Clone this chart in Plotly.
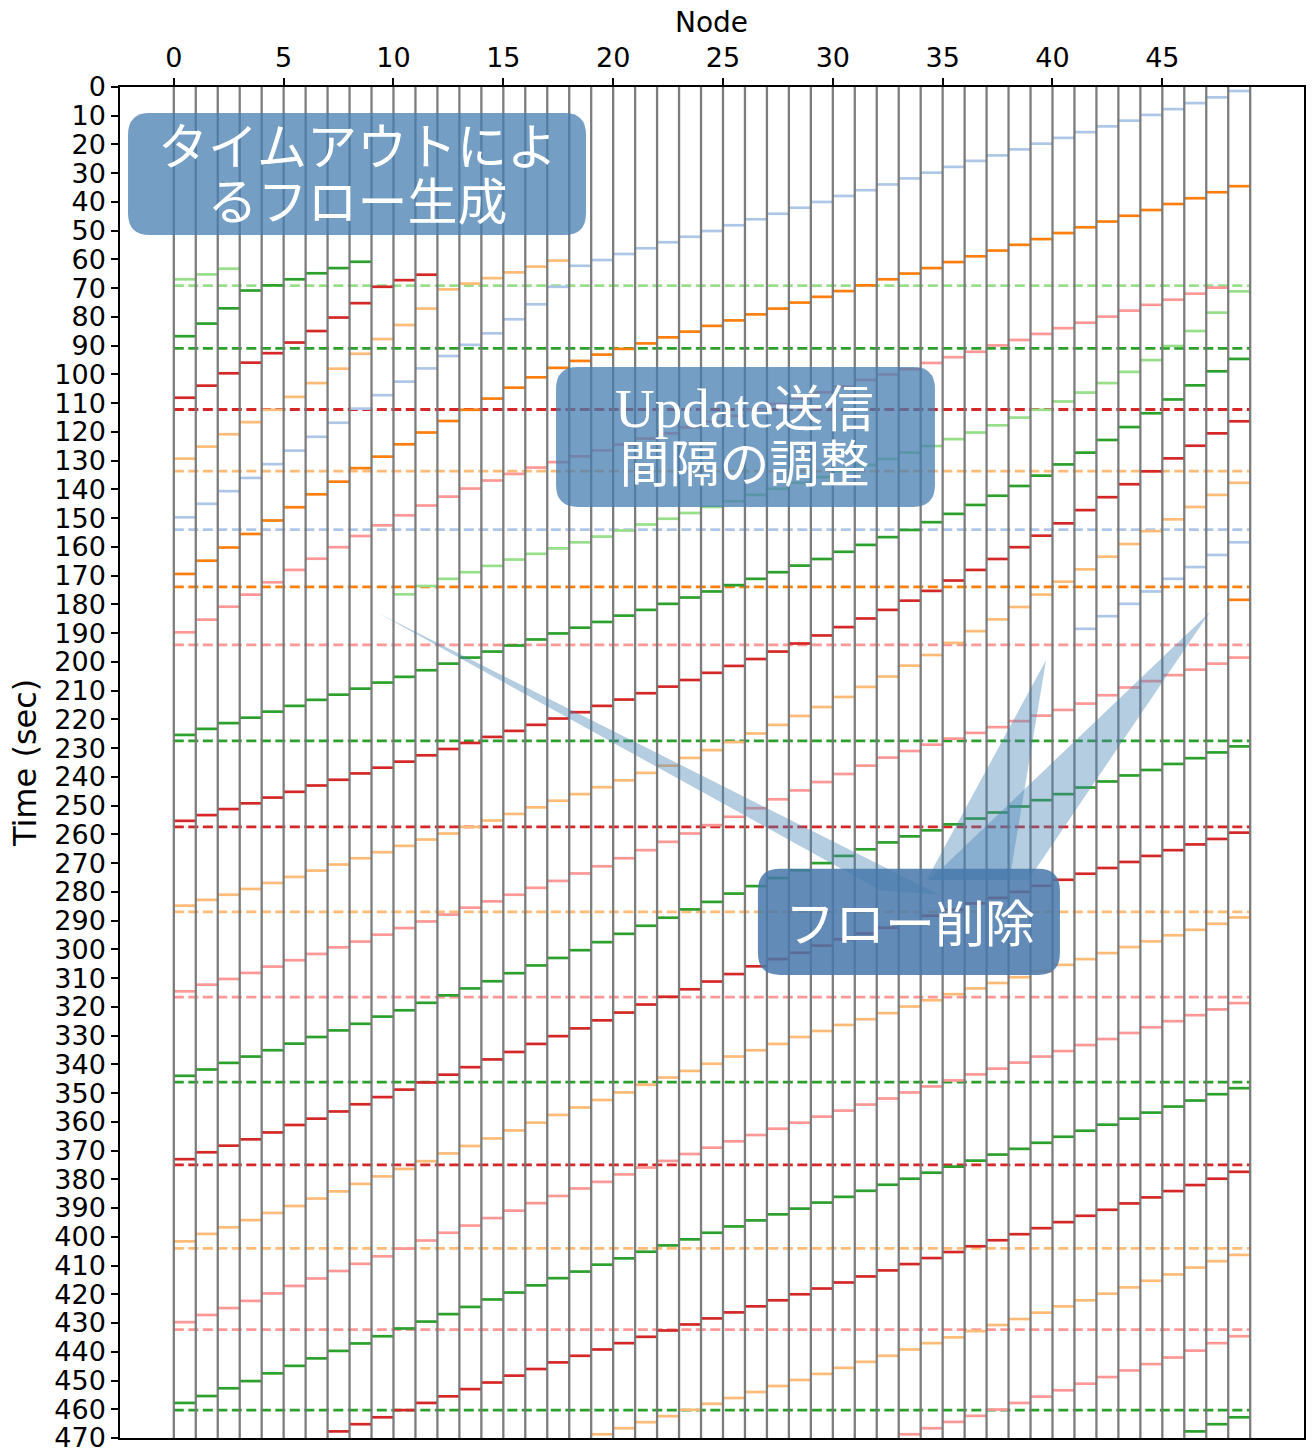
import plotly.graph_objects as go

# ---------------------------------------------------------------------------
# Flow-entry timeline on a 50-node chain.
# Each flow is listed as (first link index, times in seconds at each link).
# A segment at link i is drawn between node i and node i+1.
# ---------------------------------------------------------------------------

nodes = list(range(50))
x_ticks = [0, 5, 10, 15, 20, 25, 30, 35, 40, 45]
y_ticks = list(range(0, 471, 10))

# light blue flows
lb1_start = 0
lb1 = [149.7, 145.0, 140.6, 136.0, 131.2, 126.5, 121.7, 116.8, 111.9, 107.2,
       102.5, 97.9, 93.6, 89.7, 85.7, 80.8, 75.6, 69.5, 62.2, 60.2,
       58.1, 56.1, 54.0, 52.1, 50.1, 48.1, 46.0, 44.1, 42.0, 40.0,
       37.9, 35.9, 33.9, 31.8, 29.8, 27.8, 25.7, 23.8, 21.7, 19.7,
       17.7, 15.7, 13.7, 11.7, 9.7, 7.7, 5.6, 3.6, 1.4]
lb2_start = 41
lb2 = [188.5, 184.1, 179.8, 175.5, 171.1, 167.0, 162.8, 158.4]

# dark orange flows
o1_start = 0
o1 = [169.4, 164.8, 160.2, 155.5, 150.8, 146.2, 141.7, 137.3, 132.6, 128.6,
      124.3, 120.2, 116.2, 112.3, 108.4, 104.6, 101.0, 97.7, 95.3, 93.1,
      91.1, 89.2, 87.1, 85.1, 83.1, 81.2, 79.1, 77.1, 75.0, 73.0,
      71.0, 69.0, 66.9, 64.9, 63.0, 60.9, 58.9, 56.9, 54.9, 52.9,
      50.8, 48.8, 46.8, 44.8, 42.8, 40.7, 38.7, 36.6, 34.5]
o2_start = 48
o2 = [178.4]

# light green flows
lg1_start = 0
lg1 = [66.9, 65.2, 63.2]
lg2_start = 10
lg2 = [176.5, 173.6, 171.1, 168.8, 166.6, 164.4, 162.4, 160.5, 158.4, 156.4,
       154.3, 152.2, 150.2, 148.2, 146.1, 144.1, 141.9, 139.8, 137.7, 135.7,
       133.7, 131.5, 129.4, 127.2, 124.9, 122.5, 120.2, 117.7, 115.0, 112.3,
       109.4, 106.3, 103.0, 99.1, 95.0, 90.1, 84.9, 78.5, 71.1]

# dark green flows
g1_start = 0
g1 = [86.7, 82.3, 77.0, 70.8, 69.0, 66.9, 64.8, 63.0, 60.8]
g2_start = 0
g2 = [225.4, 223.3, 221.3, 219.4, 217.3, 215.3, 213.2, 211.4, 209.3, 207.2,
      205.2, 202.9, 200.6, 198.5, 196.4, 194.3, 192.2, 190.1, 188.1, 186.1,
      183.9, 181.9, 179.8, 177.6, 175.5, 173.3, 171.1, 168.8, 166.5, 164.2,
      161.7, 159.3, 156.6, 154.1, 151.4, 148.5, 145.4, 142.2, 138.8, 135.2,
      131.3, 127.2, 122.8, 118.3, 113.5, 108.7, 103.8, 98.9, 94.6]
g3_start = 0
g3 = [344.0, 341.8, 339.5, 337.3, 335.1, 332.8, 330.5, 328.2, 325.9, 323.4,
      321.2, 318.6, 316.0, 313.6, 311.1, 308.3, 305.6, 303.0, 300.3, 297.5,
      294.6, 291.8, 289.0, 286.1, 283.5, 280.6, 278.0, 275.2, 272.5, 270.0,
      267.5, 265.2, 262.8, 260.7, 258.6, 256.5, 254.5, 252.4, 250.3, 248.1,
      246.0, 243.7, 241.6, 239.5, 237.6, 235.5, 233.5, 231.5, 229.4]
g4_start = 0
g4 = [457.8, 455.4, 452.7, 450.2, 447.5, 444.9, 442.3, 439.7, 437.1, 434.6,
      431.9, 429.5, 426.9, 424.4, 421.8, 419.4, 416.9, 414.4, 412.1, 409.7,
      407.5, 405.2, 403.0, 400.9, 398.6, 396.4, 394.3, 392.2, 390.2, 388.1,
      386.1, 384.0, 381.9, 379.8, 377.7, 375.6, 373.5, 371.4, 369.4, 367.3,
      365.2, 363.1, 361.0, 358.9, 356.8, 354.7, 352.6, 350.4, 348.3]
g5_start = 46
g5 = [467.7, 465.2, 462.8]

# dark red flows
r1_start = 0
r1 = [108.1, 103.9, 99.6, 95.9, 92.6, 88.9, 84.9, 80.2, 75.2, 69.5, 67.2, 65.3]
r2_start = 0
r2 = [255.3, 253.3, 251.2, 249.2, 247.2, 245.2, 243.0, 241.0, 238.8, 236.8,
      234.7, 232.5, 230.3, 228.2, 226.1, 224.0, 221.9, 219.7, 217.5, 215.3,
      213.1, 210.9, 208.6, 206.3, 203.8, 201.4, 199.0, 196.4, 193.6, 190.8,
      187.9, 184.9, 181.9, 178.7, 175.3, 171.7, 168.0, 164.2, 160.1, 156.1,
      151.8, 147.2, 142.7, 138.2, 133.7, 129.2, 124.8, 120.5, 116.3]
r3_start = 0
r3 = [373.0, 370.6, 368.3, 366.1, 363.7, 361.1, 358.9, 356.4, 353.9, 351.4,
      348.8, 346.3, 343.6, 341.0, 338.3, 335.7, 332.9, 330.2, 327.5, 324.7,
      322.0, 319.2, 316.5, 313.9, 311.2, 308.6, 305.9, 303.4, 301.2, 298.7,
      296.5, 294.5, 292.5, 290.5, 288.3, 286.2, 284.0, 282.1, 280.0, 277.9,
      275.8, 273.7, 271.7, 269.6, 267.5, 265.5, 263.5, 261.6, 259.4]
r4_start = 7
r4 = [467.7, 465.2, 462.8, 460.3, 457.8, 455.5, 453.0, 450.7, 448.3, 446.0,
      443.7, 441.4, 439.2, 437.0, 434.8, 432.6, 430.5, 428.4, 426.3, 424.2,
      422.1, 420.0, 418.0, 415.9, 413.8, 411.7, 409.5, 407.4, 405.3, 403.3,
      401.2, 399.1, 397.0, 394.9, 392.7, 390.6, 388.4, 386.3, 384.1, 382.0,
      379.8, 377.4]

# light orange flows
lo1_start = 0
lo1 = [129.3, 125.1, 120.8, 116.6, 112.3, 107.8, 103.0, 98.0, 92.8, 87.7,
       82.8, 77.1, 70.4, 68.4, 66.5, 64.5, 62.5, 60.4]
lo2_start = 0
lo2 = [284.8, 282.8, 281.0, 279.0, 276.9, 274.8, 272.6, 270.5, 268.3, 266.2,
       264.0, 261.8, 259.7, 257.4, 255.2, 252.9, 250.6, 248.3, 246.0, 243.6,
       241.2, 238.6, 236.1, 233.4, 230.7, 227.9, 224.9, 221.9, 218.8, 215.7,
       212.2, 208.7, 205.1, 201.3, 197.6, 193.4, 189.3, 185.2, 180.9, 176.6,
       172.1, 167.8, 163.4, 159.0, 154.5, 150.4, 146.1, 141.9, 137.7]
lo3_start = 0
lo3 = [401.6, 399.0, 396.7, 394.2, 391.7, 389.3, 386.7, 384.2, 381.6, 379.0,
       376.4, 373.7, 371.0, 368.4, 365.8, 363.0, 360.3, 357.6, 355.0, 352.4,
       349.8, 347.1, 344.6, 342.3, 339.8, 337.3, 335.1, 332.9, 330.5, 328.4,
       326.3, 324.3, 322.2, 319.9, 317.7, 315.6, 313.6, 311.7, 309.7, 307.6,
       305.4, 303.4, 301.3, 299.2, 297.2, 295.1, 293.2, 291.1, 288.9]
lo4_start = 19
lo4 = [468.7, 466.6, 464.5, 462.4, 460.2, 458.1, 456.1, 454.0, 451.9, 449.8,
       447.7, 445.6, 443.5, 441.4, 439.2, 437.0, 435.0, 432.8, 430.7, 428.6,
       426.4, 424.2, 422.1, 419.8, 417.6, 415.3, 413.1, 410.7, 408.5, 406.3]

# pink flows
p1_start = 0
p1 = [189.7, 185.3, 180.8, 176.6, 172.3, 168.0, 164.1, 160.1, 156.2, 152.5,
      149.0, 145.6, 142.5, 139.7, 136.9, 134.6, 132.4, 130.5, 128.5, 126.4,
      124.4, 122.3, 120.5, 118.4, 116.4, 114.4, 112.3, 110.3, 108.3, 106.2,
      104.2, 101.9, 100.0, 98.2, 96.0, 94.0, 92.1, 89.9, 88.0, 85.9,
      83.9, 82.0, 79.9, 77.8, 75.8, 74.0, 71.9, 69.8]
p2_start = 0
p2 = [314.6, 312.3, 310.3, 308.2, 306.0, 303.8, 301.6, 299.3, 297.3, 294.9,
      292.6, 290.3, 287.9, 285.5, 283.3, 281.0, 278.6, 276.2, 273.6, 271.1,
      268.3, 265.5, 262.6, 259.7, 256.8, 253.9, 250.9, 247.8, 244.7, 241.8,
      239.0, 236.1, 233.3, 231.0, 228.8, 226.7, 224.7, 222.7, 220.6, 218.7,
      216.7, 214.5, 211.6, 208.9, 206.7, 204.6, 202.7, 200.6, 198.5]
p3_start = 0
p3 = [429.7, 427.2, 424.8, 422.3, 419.7, 417.1, 414.5, 411.9, 409.4, 406.8,
      404.1, 401.3, 398.6, 396.1, 393.5, 390.9, 388.3, 385.8, 383.2, 380.9,
      378.3, 375.9, 373.6, 371.2, 369.0, 366.8, 364.6, 362.4, 360.3, 358.2,
      356.1, 354.0, 351.9, 349.8, 347.7, 345.6, 343.5, 341.5, 339.4, 337.3,
      335.4, 333.3, 331.2, 329.1, 327.1, 325.0, 322.9, 320.9, 318.7]
p4_start = 33
p4 = [468.7, 466.6, 464.4, 462.3, 460.1, 457.8, 455.6, 453.4, 451.1, 448.8,
      446.5, 444.3, 442.0, 439.6, 437.0, 434.6]

# flow deletion times (dashed lines across every node)
delete_times = [69.1, 90.9, 112.2, 133.6, 154.0, 173.9, 194.1, 227.5, 257.4,
                287.0, 316.6, 346.2, 375.0, 404.0, 432.3, 460.3]
delete_flows = ["lg", "g", "r", "lo", "lb", "o", "p", "g", "r",
                "lo", "p", "g", "r", "lo", "p", "g"]

# ---------------------------------------------------------------------------
colors = {
    "lb": "#aec7e8", "o": "#ff7f0e", "lo": "#ffbb78", "g": "#2ca02c",
    "lg": "#98df8a", "r": "#d62728", "p": "#ff9896",
}

flows = [
    ("lb", lb1_start, lb1), ("lb", lb2_start, lb2),
    ("o", o1_start, o1), ("o", o2_start, o2),
    ("lg", lg1_start, lg1), ("lg", lg2_start, lg2),
    ("g", g1_start, g1), ("g", g2_start, g2), ("g", g3_start, g3),
    ("g", g4_start, g4), ("g", g5_start, g5),
    ("r", r1_start, r1), ("r", r2_start, r2), ("r", r3_start, r3),
    ("r", r4_start, r4),
    ("lo", lo1_start, lo1), ("lo", lo2_start, lo2), ("lo", lo3_start, lo3),
    ("lo", lo4_start, lo4),
    ("p", p1_start, p1), ("p", p2_start, p2), ("p", p3_start, p3),
    ("p", p4_start, p4),
]

T_MAX = 470
fig = go.Figure()

# dashed deletion lines
for t, key in zip(delete_times, delete_flows):
    fig.add_trace(go.Scatter(
        x=[nodes[0], nodes[-1]], y=[t, t], mode="lines",
        line=dict(color=colors[key], width=2.8, dash="10px,4.5px"),
        hoverinfo="skip", showlegend=False))

# per-link flow entries
for key, start, times in flows:
    xs, ys = [], []
    for k, t in enumerate(times):
        link = start + k
        xs += [link, link + 1, None]
        ys += [t, t, None]
    fig.add_trace(go.Scatter(
        x=xs, y=ys, mode="lines",
        line=dict(color=colors[key], width=2.7),
        hoverinfo="skip", showlegend=False))

# node lines
vx, vy = [], []
for n in nodes:
    vx += [n, n, None]
    vy += [0, T_MAX, None]
fig.add_trace(go.Scatter(
    x=vx, y=vy, mode="lines",
    line=dict(color="rgba(118,118,118,0.95)", width=2.3),
    hoverinfo="skip", showlegend=False))


# ---------------------------------------------------------------------------
# callout boxes (data units: node, seconds)
def rounded_rect(x0, x1, y0, y1, rx, ry):
    return (f"M {x0 + rx},{y0} L {x1 - rx},{y0} Q {x1},{y0} {x1},{y0 + ry} "
            f"L {x1},{y1 - ry} Q {x1},{y1} {x1 - rx},{y1} "
            f"L {x0 + rx},{y1} Q {x0},{y1} {x0},{y1 - ry} "
            f"L {x0},{y0 + ry} Q {x0},{y0} {x0 + rx},{y0} Z")


def tri(p0, p1, p2):
    return (f"M {p0[0]},{p0[1]} L {p1[0]},{p1[1]} "
            f"L {p2[0]},{p2[1]} Z")


RX, RY = 1.0, 7.6
wedge_fill = "rgba(70,130,180,0.40)"
shapes = [
    # wedges from the deletion callout
    dict(type="path", path=tri((9.30, 183.0), (34.88, 281.1), (32.15, 279.4)),
         fillcolor=wedge_fill, line=dict(width=0), layer="above"),
    dict(type="path", path=tri((39.71, 199.3), (34.27, 275.9), (38.04, 275.9)),
         fillcolor=wedge_fill, line=dict(width=0), layer="above"),
    dict(type="path", path=tri((47.17, 182.6), (34.40, 275.9), (38.90, 275.9)),
         fillcolor=wedge_fill, line=dict(width=0), layer="above"),
    # boxes
    dict(type="path", path=rounded_rect(-2.085, 18.765, 9.05, 51.49, RX, RY),
         fillcolor="rgba(70,125,176,0.75)", line=dict(width=0), layer="above"),
    dict(type="path", path=rounded_rect(17.40, 34.65, 97.4, 146.1, RX, RY),
         fillcolor="rgba(70,125,176,0.75)", line=dict(width=0), layer="above"),
    dict(type="path", path=rounded_rect(26.59, 40.34, 272.0, 308.9, RX, RY),
         fillcolor="rgba(70,120,170,0.85)", line=dict(width=0), layer="above"),
]

jp = "Noto Sans CJK JP"
# line pitch follows the base size (1.3 em); glyphs are enlarged per span
pitch_font = dict(family=jp, size=42, color="white")
serif_pitch = dict(family="Liberation Serif, " + jp, size=42, color="white")
big = '<span style="font-size:50px">{}</span>'
latin = '<span style="font-size:55px">{}</span>'
notes = [
    (8.34, 29.05, big.format("タイムアウトによ") + "<br>" + big.format("るフロー生成"),
     pitch_font),
    (26.0, 121.4, latin.format("Update") + big.format("送信") + "<br>"
     + big.format("間隔の調整"), serif_pitch),
    (33.51, 289.8, big.format("フロー削除"), pitch_font),
]
annotations = [
    dict(x=x, y=y, xref="x", yref="y", text=txt, showarrow=False,
         font=f, xanchor="center", yanchor="middle")
    for x, y, txt, f in notes
]
axis_font = dict(family="DejaVu Sans", size=27, color="black")
annotations += [
    dict(x=0.4992, y=1.048, xref="paper", yref="paper", text="Node",
         showarrow=False, font=dict(family="DejaVu Sans", size=28, color="black"),
         xanchor="center", yanchor="middle"),
    dict(x=-0.0802, y=0.4996, xref="paper", yref="paper", text="Time (sec)",
         showarrow=False, font=dict(family="DejaVu Sans", size=32, color="black"),
         textangle=-90, xanchor="center", yanchor="middle"),
]

fig.update_layout(
    width=1314, height=1450,
    margin=dict(l=120, r=10, t=87, b=12, autoexpand=False),
    paper_bgcolor="white", plot_bgcolor="white",
    shapes=shapes, annotations=annotations,
    font=axis_font,
    xaxis=dict(range=[-2.45, 51.45], side="top", tickvals=x_ticks,
               ticks="outside", ticklen=7, tickwidth=1.5, tickcolor="black",
               showline=True, mirror=True, linecolor="black", linewidth=1.5,
               showgrid=False, zeroline=False, tickfont=axis_font,
               automargin=False),
    yaxis=dict(range=[T_MAX, 0], tickvals=y_ticks, ticklabeloverflow="allow",
               ticks="outside", ticklen=7, tickwidth=1.5, tickcolor="black",
               showline=True, mirror=True, linecolor="black", linewidth=1.5,
               showgrid=False, zeroline=False, tickfont=axis_font,
               automargin=False),
)

fig.write_html("out.html")
